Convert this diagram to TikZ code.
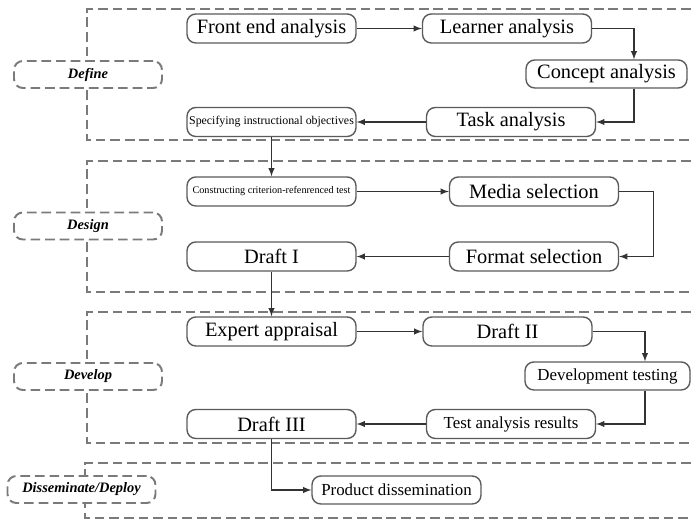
\documentclass[tikz,border=0pt]{standalone}
\usepackage{fontspec}
\setmainfont{Liberation Serif}
\usepackage{tikz}
\usetikzlibrary{arrows}
\definecolor{framegray}{HTML}{7A7A7A}
\definecolor{boxgray}{HTML}{5A5A5A}
\tikzstyle{stage} = [draw=framegray, line width=1.1pt, dash pattern=on 5.5pt off 2.8pt]
\tikzstyle{phase} = [rectangle, rounded corners=5pt, minimum width=2.96cm, minimum height=0.54cm, align=center, draw=framegray, line width=1.1pt, dash pattern=on 5.5pt off 2.8pt, fill=white, font=\fontsize{8.2}{9}\selectfont\bfseries\itshape]
\tikzstyle{process} = [rectangle, rounded corners=5pt, minimum width=3.38cm, minimum height=0.58cm, inner sep=1pt, align=center, draw=boxgray, line width=0.8pt, fill=white, font=\fontsize{11.6}{13}\selectfont]
\tikzstyle{process2} = [process, font=\fontsize{9.6}{11}\selectfont]
\tikzstyle{arrow} = [line width=0.6pt, draw=black!80, -latex]

\begin{document}
\begin{tikzpicture}[x=0.02cm, y=-0.02cm]
\useasboundingbox (0,0) rectangle (691,520);
% stage frames (open to the right)
\draw[stage] (691,9) -- (87,9) -- (87,140) -- (691,140);
\draw[stage] (691,161) -- (87,161) -- (87,292) -- (691,292);
\draw[stage] (691,312) -- (87,312) -- (87,443) -- (691,443);
\draw[stage] (691,463) -- (85,463) -- (85,518) -- (691,518);

\node (define) [phase] at (88,74.5) {Define};
\node (design) [phase] at (88,226) {Design};
\node (develop) [phase] at (88,376.5) {Develop};
\node (disseminate) [phase] at (81.5,489.5) {Disseminate/Deploy};

% define
\node (front_end) [process] at (271.5,28.5) {Front end analysis};
\node (learner) [process] at (507,28.5) {Learner analysis};
\node (concept) [process, minimum width=3.22cm, minimum height=0.56cm] at (606.5,74) {Concept analysis};
\node (task) [process] at (511,122) {Task analysis};
\node (objectives) [process, font=\fontsize{6.75}{8}\selectfont] at (271.5,122) {Specifying instructional objectives};
% design
\node (criterion) [process, font=\fontsize{5.8}{7}\selectfont] at (271.5,191.5) {Constructing criterion-refenrenced test};
\node (media) [process] at (534,191.5) {Media selection};
\node (format) [process] at (534,256.5) {Format selection};
\node (draft1) [process] at (271.5,256.5) {Draft I};
% develop
\node (expert) [process] at (271.5,331.5) {Expert appraisal};
\node (draft2) [process] at (507.5,331.5) {Draft II};
\node (dev_testing) [process2, minimum width=3.3cm, minimum height=0.56cm] at (607.5,376) {Development testing};
\node (test_results) [process2] at (511,424) {Test analysis results};
\node (draft3) [process] at (271.5,424) {Draft III};
% disseminate
\node (product) [process2, minimum height=0.56cm] at (396.5,490) {Product dissemination};

\draw[arrow] (front_end) -- (learner);
\draw[arrow] (learner.east) -| ([xshift=0.55cm]concept.north);
\draw[arrow] ([xshift=0.55cm]concept.south) |- (task.east);
\draw[arrow] (task) -- (objectives);
\draw[arrow] (objectives) -- (criterion);

\draw[arrow] (criterion) -- (media);
\draw[arrow] (media.east) -- ++(34,0) |- (format.east);
\draw[arrow] (format) -- (draft1);
\draw[arrow] (draft1) -- (expert);

\draw[arrow] (expert) -- (draft2);
\draw[arrow] (draft2.east) -| ([xshift=0.75cm]dev_testing.north);
\draw[arrow] ([xshift=0.75cm]dev_testing.south) |- (test_results.east);
\draw[arrow] (test_results) -- (draft3);
\draw[arrow] (draft3) |- (product);
\end{tikzpicture}
\end{document}
